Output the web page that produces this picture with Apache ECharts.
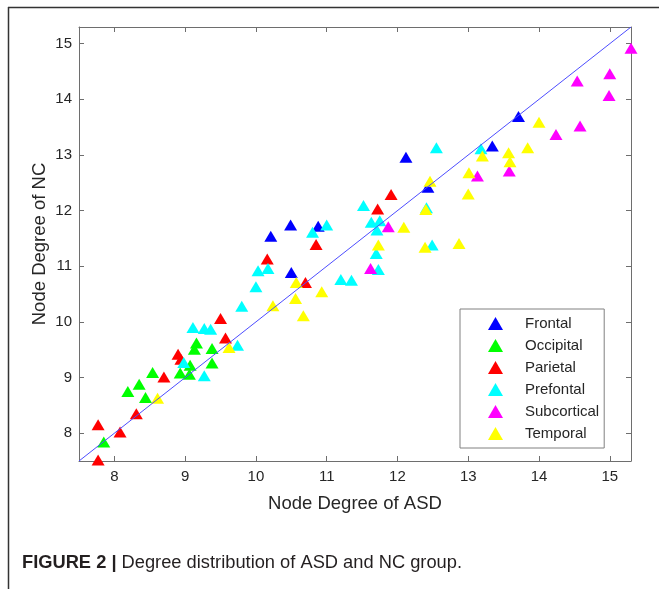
<!DOCTYPE html>
<html>
<head>
<meta charset="utf-8">
<script src="https://cdn.jsdelivr.net/npm/echarts@6/dist/echarts.min.js"></script>
<style>
html,body{margin:0;padding:0;background:#fff;}
#chart{width:659px;height:589px;}
</style>
</head>
<body>
<div id="chart"></div>
<script>
// lobe groups [ASD degree, NC degree]
var groupNames = ['Frontal', 'Occipital', 'Parietal', 'Prefontal', 'Subcortical', 'Temporal'];
var groupColors = ['#0000ff', '#00ff00', '#ff0000', '#00ffff', '#ff00ff', '#ffff00'];

var frontalPts = [
    [10.21, 11.54], [10.49, 11.74], [10.88, 11.72], [10.50, 10.89],
    [12.12, 12.96], [12.43, 12.42], [13.34, 13.16], [13.71, 13.69]
];
var occipitalPts = [
    [7.85, 7.84], [8.19, 8.75], [8.35, 8.88], [8.44, 8.64], [8.54, 9.09], [8.93, 9.08],
    [9.06, 9.06], [9.07, 9.22], [9.13, 9.51], [9.16, 9.62], [9.38, 9.52], [9.38, 9.26]
];
var parietalPts = [
    [7.77, 8.15], [7.77, 7.52], [8.08, 8.02], [8.31, 8.35], [8.70, 9.01], [8.90, 9.42],
    [8.94, 9.33], [9.50, 10.06], [9.57, 9.71], [10.16, 11.13], [10.70, 10.71],
    [10.85, 11.39], [11.72, 12.03], [11.91, 12.29]
];
var prefontalPts = [
    [8.98, 9.27], [9.27, 9.03], [9.11, 9.90], [9.27, 9.88], [9.36, 9.87], [9.74, 9.58],
    [9.80, 10.28], [10.00, 10.63], [10.03, 10.92], [10.17, 10.96], [10.80, 11.61],
    [11.00, 11.74], [11.20, 10.76], [11.35, 10.75], [11.52, 12.09], [11.63, 11.79],
    [11.75, 11.82], [11.71, 11.65], [11.70, 11.23], [11.73, 10.94], [12.41, 12.05],
    [12.49, 11.38], [12.55, 13.13], [13.18, 13.11]
];
var subcorticalPts = [
    [11.87, 11.71], [11.62, 10.96], [13.13, 12.62], [13.58, 12.71], [14.24, 13.37],
    [14.58, 13.52], [14.54, 14.33], [15.00, 14.46], [14.99, 14.07], [15.30, 14.92]
];
var temporalPts = [
    [8.61, 8.63], [9.62, 9.54], [10.24, 10.29], [10.57, 10.71], [10.56, 10.42],
    [10.67, 10.11], [10.93, 10.54], [11.73, 11.38], [12.09, 11.70], [12.40, 12.02],
    [12.39, 11.34], [12.87, 11.41], [12.46, 12.53], [13.00, 12.30], [13.01, 12.68],
    [13.20, 12.98], [13.57, 13.04], [13.59, 12.88], [13.84, 13.13], [14.00, 13.59]
];
var groupData = [frontalPts, occipitalPts, parietalPts, prefontalPts, subcorticalPts, temporalPts];

var axisRange = [7.5, 15.3];
var diagonal = [[7.5, 7.5], [15.3, 15.3]];

var chart = echarts.init(document.getElementById('chart'));

function intLabel(v) {
    return Math.abs(v - Math.round(v)) < 1e-6 ? String(Math.round(v)) : '';
}

var axisLineStyle = {lineStyle: {color: '#6e6e6e', width: 1}};

var series = [];
for (var i = 0; i < groupNames.length; i++) {
    series.push({
        name: groupNames[i],
        type: 'scatter',
        xAxisIndex: 0,
        yAxisIndex: 0,
        symbol: 'triangle',
        symbolSize: [13, 11],
        clip: false,
        itemStyle: {color: groupColors[i], opacity: 1},
        data: groupData[i]
    });
}
series.push({
    type: 'line',
    xAxisIndex: 0,
    yAxisIndex: 0,
    symbol: 'none',
    silent: true,
    z: 3,
    lineStyle: {color: '#4d4dff', width: 1},
    data: diagonal
});

var option = {
    animation: false,
    backgroundColor: '#fff',
    grid: {left: 79, top: 27, right: 28, bottom: 128},
    legend: {
        orient: 'vertical',
        left: 460,
        top: 309,
        padding: [7, 5, 7, 28],
        itemWidth: 15,
        itemHeight: 13,
        itemGap: 7,
        borderColor: '#808080',
        borderWidth: 1,
        textStyle: {
            fontSize: 15,
            fontFamily: 'Liberation Sans, Arial, sans-serif',
            color: '#262626',
            padding: [0, 0, 0, 17]
        },
        data: groupNames.map(function (n) { return {name: n, icon: 'triangle'}; })
    },
    xAxis: [{
        type: 'value',
        min: axisRange[0],
        max: axisRange[1],
        splitNumber: 8,
        name: 'Node Degree of ASD',
        nameLocation: 'middle',
        nameGap: 33,
        nameTextStyle: {fontSize: 18.5, color: '#262626', fontFamily: 'Liberation Sans, Arial, sans-serif'},
        axisLine: axisLineStyle,
        axisTick: {inside: true, length: 5, lineStyle: {color: '#6e6e6e'}},
        axisLabel: {margin: 8, fontSize: 15, color: '#262626', fontFamily: 'Liberation Sans, Arial, sans-serif', formatter: intLabel},
        splitLine: {show: false}
    }, {
        type: 'value',
        position: 'top',
        min: axisRange[0],
        max: axisRange[1],
        splitNumber: 8,
        axisLine: axisLineStyle,
        axisTick: {inside: true, length: 5, lineStyle: {color: '#6e6e6e'}},
        axisLabel: {show: false},
        splitLine: {show: false}
    }],
    yAxis: [{
        type: 'value',
        min: axisRange[0],
        max: axisRange[1],
        splitNumber: 8,
        name: 'Node Degree of NC',
        nameLocation: 'middle',
        nameGap: 30,
        nameMoveOverlap: false,
        nameTextStyle: {fontSize: 18.5, color: '#262626', fontFamily: 'Liberation Sans, Arial, sans-serif'},
        axisLine: axisLineStyle,
        axisTick: {inside: true, length: 5, lineStyle: {color: '#6e6e6e'}},
        axisLabel: {margin: 7, fontSize: 15, color: '#262626', fontFamily: 'Liberation Sans, Arial, sans-serif', formatter: intLabel},
        splitLine: {show: false}
    }, {
        type: 'value',
        position: 'right',
        min: axisRange[0],
        max: axisRange[1],
        splitNumber: 8,
        axisLine: axisLineStyle,
        axisTick: {inside: true, length: 5, lineStyle: {color: '#6e6e6e'}},
        axisLabel: {show: false},
        splitLine: {show: false}
    }],
    graphic: [
        // outer figure frame (top and left edges)
        {type: 'line', shape: {x1: 8, y1: 7.5, x2: 659, y2: 7.5}, style: {stroke: '#333', lineWidth: 1.5}},
        {type: 'line', shape: {x1: 8.5, y1: 7, x2: 8.5, y2: 589}, style: {stroke: '#333', lineWidth: 1.5}},
        {
            type: 'text',
            left: 22,
            top: 554,
            style: {
                text: '{b|FIGURE 2 |} Degree distribution of ASD and NC group.',
                fontSize: 18.3,
                fontFamily: 'Liberation Sans, Arial, sans-serif',
                fill: '#231f20',
                rich: {
                    b: {fontSize: 18.3, fontWeight: 'bold', fontFamily: 'Liberation Sans, Arial, sans-serif', fill: '#231f20'}
                }
            }
        }
    ],
    series: series
};

chart.setOption(option);
</script>
</body>
</html>
